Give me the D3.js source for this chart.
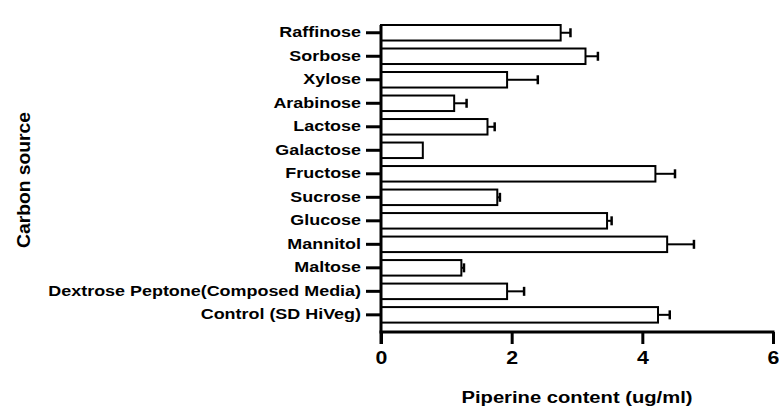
<!DOCTYPE html>
<html>
<head>
<meta charset="utf-8">
<script src="https://cdn.jsdelivr.net/npm/d3@7"></script>
<style>
  html, body { margin: 0; padding: 0; background: #fff; }
  svg { display: block; }
  text { font-family: "Liberation Sans", Arial, sans-serif; font-weight: bold; fill: #000; }
</style>
</head>
<body>
<svg id="chart" width="779" height="408"></svg>
<script>
const categories = [
  "Raffinose", "Sorbose", "Xylose", "Arabinose", "Lactose", "Galactose",
  "Fructose", "Sucrose", "Glucose", "Mannitol", "Maltose",
  "Dextrose Peptone(Composed Media)", "Control (SD HiVeg)"
];
const values = [2.75, 3.13, 1.93, 1.12, 1.63, 0.64, 4.20, 1.78, 3.46, 4.38, 1.23, 1.93, 4.24];
const errors = [0.15, 0.19, 0.47, 0.19, 0.11, 0.0, 0.30, 0.04, 0.07, 0.41, 0.04, 0.26, 0.18];
const xTicks = [0, 2, 4, 6];
const xTitle = "Piperine content (ug/ml)";
const yTitle = "Carbon source";

const svg = d3.select("#chart");
const x = d3.scaleLinear().domain([0, 6]).range([381, 773]);
const y = d3.scaleBand().domain(categories).range([25, 332])
  .paddingInner(0.34).paddingOuter(0.2).align(0);

function stretch(sel, factor) {
  sel.each(function () {
    const w = this.getComputedTextLength();
    d3.select(this).attr("textLength", w * factor).attr("lengthAdjust", "spacingAndGlyphs");
  });
}

// bars
svg.append("g").selectAll("rect").data(categories).join("rect")
  .attr("x", x(0))
  .attr("y", d => y(d))
  .attr("width", (d, i) => x(values[i]) - x(0))
  .attr("height", y.bandwidth())
  .attr("fill", "#fff")
  .attr("stroke", "#000")
  .attr("stroke-width", 2);

// error bars
const eg = svg.append("g").attr("stroke", "#000");
categories.forEach((c, i) => {
  if (errors[i] <= 0) return;
  const cy = y(c) + y.bandwidth() / 2;
  eg.append("line").attr("x1", x(values[i])).attr("x2", x(values[i] + errors[i]))
    .attr("y1", cy).attr("y2", cy).attr("stroke-width", 2);
  eg.append("line").attr("x1", x(values[i] + errors[i])).attr("x2", x(values[i] + errors[i]))
    .attr("y1", cy - 4.5).attr("y2", cy + 4.5).attr("stroke-width", 2.5);
});

// y axis
const yAxis = d3.axisLeft(y).tickSize(15).tickPadding(5).tickSizeOuter(0);
const gy = svg.append("g").attr("transform", `translate(${x(0)},0)`).call(yAxis);
gy.select(".domain").remove();
gy.selectAll(".tick line").attr("stroke", "#000").attr("stroke-width", 3);
gy.selectAll(".tick text").style("font-size", "14px").attr("fill", "#000").call(stretch, 1.28);
svg.append("line").attr("x1", x(0)).attr("x2", x(0)).attr("y1", 25).attr("y2", 344)
  .attr("stroke", "#000").attr("stroke-width", 3);

// x axis
const xAxis = d3.axisBottom(x).tickValues(xTicks).tickFormat(d3.format("d"))
  .tickSize(12).tickPadding(7).tickSizeOuter(0);
const gx = svg.append("g").attr("transform", `translate(0,332)`).call(xAxis);
gx.select(".domain").attr("stroke", "#000").attr("stroke-width", 3)
  .attr("d", `M${x(0) - 1.5},0H${x(6) + 1.5}`);
gx.selectAll(".tick line").attr("stroke", "#000").attr("stroke-width", 3);
gx.selectAll(".tick text").style("font-size", "19px").attr("fill", "#000").call(stretch, 1.12);

// titles
svg.append("text").attr("x", 577).attr("y", 403).attr("text-anchor", "middle")
  .style("font-size", "16px").attr("textLength", 231).attr("lengthAdjust", "spacingAndGlyphs")
  .text(xTitle);
svg.append("text").attr("transform", "translate(30,180) rotate(-90)").attr("text-anchor", "middle")
  .style("font-size", "18px").attr("textLength", 136).attr("lengthAdjust", "spacingAndGlyphs")
  .text(yTitle);
</script>
</body>
</html>
